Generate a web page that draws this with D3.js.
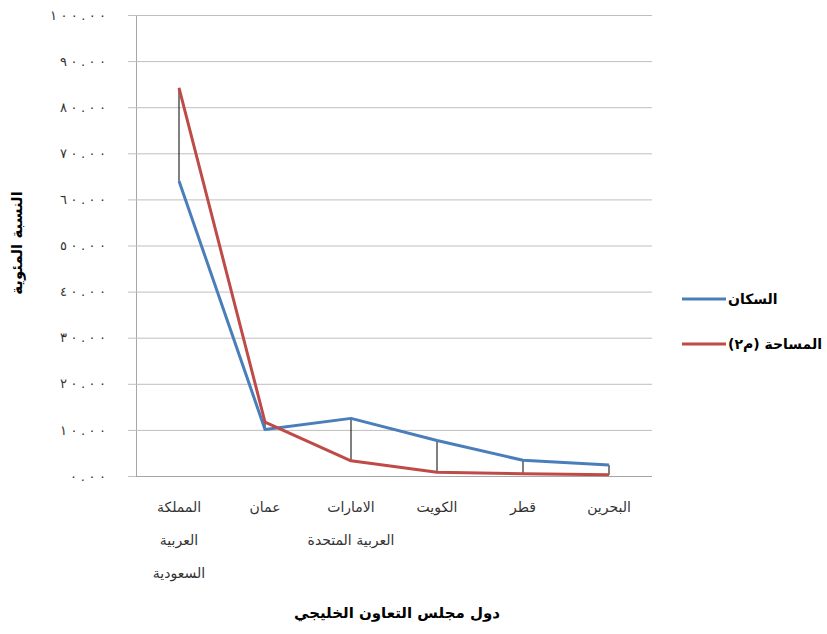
<!DOCTYPE html>
<html>
<head>
<meta charset="utf-8">
<script src="https://cdn.jsdelivr.net/npm/d3@7"></script>
<style>
  body { margin: 0; background: #fff; }
  text { font-family: "DejaVu Sans", sans-serif; }
</style>
</head>
<body>
<svg width="827" height="634"></svg>
<script>
// categories (left to right) with the wrapped lines used under the axis
const categories = ['السعودية', 'عمان', 'الامارات', 'الكويت', 'قطر', 'البحرين'];
const categoryLines = [
    ['المملكة', 'العربية', 'السعودية'],
    ['عمان'],
    ['الامارات', 'العربية المتحدة'],
    ['الكويت'],
    ['قطر'],
    ['البحرين']
];
const population = [64.0, 10.1, 12.5, 7.7, 3.4, 2.4];   // السكان
const area = [84.2, 11.7, 3.3, 0.8, 0.5, 0.25];         // المساحة (م٢)
const yTicks = [0, 10, 20, 30, 40, 50, 60, 70, 80, 90, 100];
const seriesNames = ['السكان', 'المساحة (م٢)'];

const svg = d3.select('svg');
const m = { left: 136, right: 652, top: 15, bottom: 476 };

const x = d3.scaleBand().domain(categories).range([m.left, m.right]);
const y = d3.scaleLinear().domain([0, 100]).range([m.bottom, m.top]);

const arabicDigits = s => s.replace(/[0-9]/g, d => '٠١٢٣٤٥٦٧٨٩'[d]);
const fmt = v => arabicDigits(d3.format('.2f')(v));

// gridlines + y axis
const gY = svg.append('g').attr('transform', 'translate(' + m.left + ',0)')
    .call(d3.axisLeft(y).tickValues(yTicks).tickSize(8).tickPadding(22).tickFormat(fmt));
gY.select('.domain').attr('stroke', '#a6a6a6');
gY.selectAll('.tick line').attr('stroke', '#bfbfbf');
gY.selectAll('.tick text')
    .attr('font-size', 13).attr('fill', '#333')
    .attr('lengthAdjust', 'spacing')
    .attr('textLength', d => fmt(d).length * 10 - 4);
gY.selectAll('.tick').append('line')
    .attr('x1', 0).attr('x2', m.right - m.left)
    .attr('stroke', d => d === 0 ? '#a6a6a6' : '#bfbfbf');

// high-low lines
const cx = c => x(c) + x.bandwidth() / 2;
svg.append('g').selectAll('line').data(categories).join('line')
    .attr('x1', cx).attr('x2', cx)
    .attr('y1', (c, i) => y(population[i]))
    .attr('y2', (c, i) => y(area[i]))
    .attr('stroke', '#000').attr('stroke-width', 1);

const line = d3.line().x((d, i) => cx(categories[i])).y(d => y(d));
const colors = ['#4a7ebb', '#be4b48'];
[population, area].forEach((s, k) => {
    svg.append('path').datum(s)
        .attr('d', line)
        .attr('fill', 'none')
        .attr('stroke', colors[k])
        .attr('stroke-width', 3)
        .attr('stroke-linejoin', 'round');
});

// category labels
const gX = svg.append('g');
categoryLines.forEach((lines, i) => {
    lines.forEach((t, j) => {
        gX.append('text')
            .attr('x', cx(categories[i]))
            .attr('y', 512 + j * 33)
            .attr('text-anchor', 'middle')
            .attr('font-size', 14)
            .attr('fill', '#333')
            .text(t);
    });
});

// axis titles
svg.append('text')
    .attr('x', 397).attr('y', 618)
    .attr('text-anchor', 'middle')
    .attr('font-size', 15).attr('font-weight', 'bold')
    .text('دول مجلس التعاون الخليجي');

svg.append('text')
    .attr('transform', 'translate(22,243) rotate(-90)')
    .attr('text-anchor', 'middle')
    .attr('font-size', 15).attr('font-weight', 'bold')
    .text('النسبة المئوية');

// legend
const legend = svg.append('g');
seriesNames.forEach((n, k) => {
    const ly = 299 + k * 45;
    legend.append('line')
        .attr('x1', 682).attr('x2', 726)
        .attr('y1', ly).attr('y2', ly)
        .attr('stroke', colors[k]).attr('stroke-width', 3);
    legend.append('text')
        .attr('x', 728).attr('y', ly + 5)
        .attr('direction', 'rtl')
        .attr('text-anchor', 'end')
        .attr('font-size', 14).attr('font-weight', 'bold')
        .text(n);
});
</script>
</body>
</html>
